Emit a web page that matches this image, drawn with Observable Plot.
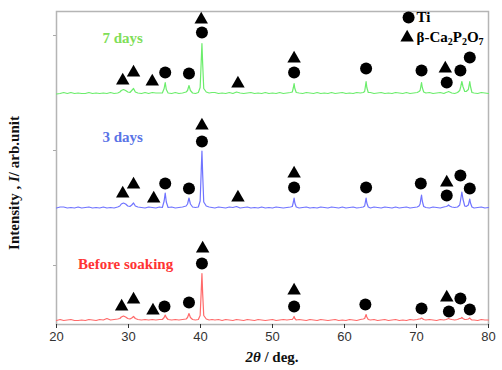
<!DOCTYPE html>
<html><head><meta charset="utf-8">
<script src="https://cdn.jsdelivr.net/npm/d3@7"></script>
<script src="https://cdn.jsdelivr.net/npm/@observablehq/plot@0.6"></script>
<style>body{margin:0;background:#fff} #chart{width:502px;height:370px}</style>
</head><body><div id="chart"></div>
<script>
// 2θ sample positions shared by the three patterns
const twoTheta = [
  20,20.5,21,21.5,22,22.5,23,23.5,24,24.5,25,25.5,26,26.5,27,27.5,28,28.5,
  28.8,29.0,29.3,29.6,29.9,30.2,30.45,30.7,30.95,31.3,31.8,32.3,32.8,33.3,33.8,34.3,
  34.7,34.95,35.1,35.25,35.5,36,36.5,37,37.5,38.0,
  38.2,38.4,38.6,38.9,39.3,39.7,
  39.95,40.1,40.2,40.3,40.45,40.8,41.2,41.6,
  42,42.5,43,43.5,44,44.5,45,45.5,46,46.5,47,47.5,48,48.5,49,49.5,50,50.5,51,51.5,52,52.5,
  52.75,52.9,53.0,53.1,53.3,
  53.7,54.2,54.7,55.2,55.7,56.2,56.7,57.2,57.7,58.2,58.7,59.2,59.7,60.2,60.7,61.2,61.7,62.2,62.6,
  62.8,62.9,63.0,63.1,63.3,
  63.6,64.1,64.6,65.1,65.6,66.1,66.6,67.1,67.6,68.1,68.6,69.1,69.6,70.1,70.35,
  70.5,70.6,70.7,70.8,71.0,
  71.3,71.8,72.3,72.8,73.3,73.8,74.1,
  74.3,74.45,74.6,74.9,75.3,75.7,76.0,
  76.15,76.3,76.45,76.7,76.9,
  77.2,77.3,77.4,77.5,77.7,
  78.0,78.5,79.0,79.5,80.0
];
const intensityBefore = [
  1,2,1,1.5,2,1,1,1.5,1,2,1.5,1,2,1.5,3,1.5,2,2.5,
  3,4.5,5.5,4.5,3,2.5,3.5,5,3,2,1.5,2,1.5,2,1.5,2,
  2,4,6.5,4,2,1.5,2,1.5,2,2.5,
  4,8,4,2,1.5,2,
  6,30,48,28,6,2.5,1.5,2,
  1.5,2,1,2,1.5,1,2,1.5,1,2,1.5,1,2,1.5,1,1.5,2,1,1.5,2,1.5,2,
  2,3.5,5,3,1.5,
  2,1.5,1,2,1.5,1,2,1.5,1,1.5,2,1,1.5,1,2,1.5,1,2,2.5,
  3,5,7,4.5,2,
  1.5,2,1,1.5,2,1,1.5,2,1,1.5,1,2,1.5,2,2.5,
  2.5,3,3.5,3,2,
  1.5,2,1.5,1,2,1.5,2,
  2.5,3,2.5,2,1.5,2,3,
  3,4,3,2,2,
  2.5,3,3.5,2.5,1.5,
  1.5,1,2,1.5,1.5
];
const intensity3d = [
  1,2,2,1,1.5,1,2,1,1.5,2,1,1.5,1,2,1,1.5,1,2,
  3,5,6,5,3,2.5,4,6,3,2,1.5,1,2,1.5,1,2,
  1.5,8,16,7,1.5,2,1,1.5,2,3,
  5,11,5,2,1.5,2,
  8,38,58,35,7,3,2,1.5,
  1,2,1.5,1,2,1.5,2.5,1,1.5,2,1,1.5,1,2,1,1.5,1,2,1.5,1,1.5,2,
  2.5,7,11,6,2,
  1,1.5,2,1,1.5,1,2,1.5,1,2,1.5,1,2,1,1.5,2,1,1.5,2,
  3,7,11,6,2,
  1,2,1.5,1,2,1.5,1,2,1,1.5,2,1,1.5,2,3,
  5,10,14,8,2.5,
  1.5,1,2,1.5,1,2,2.5,
  3,4,3,2,1.5,2,4,
  10,17,10,3,2.5,
  4,7,10,6,2,
  1,1.5,2,1,1.5
];
const intensity7d = [
  0.5,1,2,1,2,1,1.5,1,1,2,1,1.5,1,1.5,1,2,1,1.5,
  2.5,4,5,4,2.5,2,4,6,2.5,1.5,1,2,1,2,1.5,1.5,
  1.5,6,12,5,1.5,1,2,1,1.5,2.5,
  4,9,4,1.5,1,2,
  7,33,51,31,6,2.5,1.5,2,
  2,1,1.5,1,2,1,2.5,1.5,1,1.5,2,1,1.5,1,2,1,1.5,1,2,1,1.5,2,
  2.5,7,11,6,2,
  1.5,1,2,1.5,1,2,1,1.5,1,2,1,1.5,2,1,1.5,1,2,1.5,2,
  3,8,13,7,2,
  2,1,1.5,2,1,1.5,1,2,1.5,1,2,1,1.5,2,3,
  4,8,12,7,2.5,
  1.5,2,1,1.5,2,1,2,
  2.5,3,2.5,1.5,1,2,4,
  8,13,8,3,3,
  5,9,13,8,2,
  1.5,1,2,1.5,1
];
const seriesNames = ["Before soaking", "3 days", "7 days"];
const seriesOffsets = [3, 115.5, 230];
const seriesLineColors = ["#ff6a6a", "#7074ff", "#6ced6c"];
const seriesTextColors = ["#ff3333", "#5a74e6", "#80de58"];
const seriesLabelPos = [[29.6, 60], [29.2, 187], [29.2, 286]];

// phase markers: [kind, 2θ, level]
const markersBefore = [
  ["triangle",29.05,18],["triangle",30.7,25],["triangle",33.4,14],["circle",35.0,18],["circle",38.4,22],
  ["circle",40.2,61],["triangle",40.3,76],["triangle",53.0,34],["circle",53.0,18],["circle",62.9,20],
  ["circle",70.7,16],["triangle",74.2,27],["circle",74.5,13],["circle",76.1,26],["circle",77.4,15]
];
const markers3d = [
  ["triangle",29.2,131],["triangle",30.7,140],["triangle",33.5,126],["circle",35.1,141],["circle",38.4,136],
  ["circle",40.2,183],["triangle",40.2,199],["triangle",45.2,127],["triangle",53.0,151],["circle",53.0,137],
  ["circle",63.0,137],["circle",70.6,141],["triangle",74.2,142],["circle",74.2,129],["circle",76.1,149],["circle",77.4,136]
];
const markers7d = [
  ["triangle",29.2,244],["triangle",30.7,252],["triangle",33.3,243],["circle",35.1,252],["circle",38.4,251],
  ["circle",40.2,292],["triangle",40.1,305],["triangle",45.2,241],["triangle",53.0,266],["circle",53.0,252],
  ["circle",63.0,256],["circle",70.7,254],["triangle",74.0,256],["circle",74.2,242],["circle",76.1,254],["circle",77.4,267]
];
const legendItems = [["circle", "Ti", 307], ["triangle", "β-Ca2P2O7", 287]];
const xTicks = [20, 30, 40, 50, 60, 70, 80];
const yTicks = [59, 174, 289];

const intensities = [intensityBefore, intensity3d, intensity7d];
const allMarkers = [...markersBefore, ...markers3d, ...markers7d].map(([kind, x, y]) => ({kind, x, y}));

const lineMarks = seriesNames.map((name, i) => {
  const data = twoTheta.map((t, j) => ({t, v: intensities[i][j] + seriesOffsets[i]}));
  return Plot.line(data, {x: "t", y: "v", stroke: seriesLineColors[i], strokeWidth: 1.2});
});
const labelData = seriesNames.map((name, i) => ({name, x: seriesLabelPos[i][0], y: seriesLabelPos[i][1], color: seriesTextColors[i]}));
const legendData = legendItems.map(([kind, text, y]) => ({kind, text, y}));

const serif = "'Liberation Serif', 'Times New Roman', serif";
const chart = Plot.plot({
  width: 502, height: 370,
  marginLeft: 56, marginRight: 14, marginTop: 11, marginBottom: 46,
  x: {domain: [20, 80]},
  y: {domain: [0, 313]},
  style: {fontFamily: "'Liberation Sans', Arial, sans-serif", fontSize: "13px", color: "#333", background: "#fff"},
  marks: [
    Plot.frame({stroke: "#b5b5b5", strokeWidth: 1.5}),
    Plot.axisX({ticks: xTicks, tickSize: 4, tickPadding: 3, label: null, tickFormat: d => String(d)}),
    Plot.axisY({ticks: yTicks, tickSize: 3, tickFormat: () => "", label: null, stroke: "#aaa"}),
    ...lineMarks,
    Plot.dot(allMarkers.filter(d => d.kind === "circle"), {x: "x", y: "y", symbol: "circle", r: 6, fill: "#000"}),
    Plot.dot(allMarkers.filter(d => d.kind === "triangle"), {x: "x", y: "y", symbol: "triangle", r: 5, fill: "#000"}),
    Plot.text(labelData, {x: "x", y: "y", text: "name", fill: d => d.color, fontFamily: serif, fontWeight: "bold", fontSize: 15}),
    Plot.dot(legendData.filter(d => d.kind === "circle"), {x: 68.9, y: "y", symbol: "circle", r: 6, fill: "#000"}),
    Plot.dot(legendData.filter(d => d.kind === "triangle"), {x: 68.7, y: "y", symbol: "triangle", r: 5, fill: "#000"}),
    Plot.text(legendData, {x: 70.0, y: "y", text: "text", textAnchor: "start", fill: "#000", fontFamily: serif, fontWeight: "bold", fontSize: 15})
  ]
});
document.getElementById("chart").appendChild(chart);

const svg = d3.select(chart);
// subscripts in the legend formula
svg.selectAll("text").filter(function(){ return this.textContent === "β-Ca2P2O7"; }).each(function(){
  const t = d3.select(this);
  t.text("");
  const parts = [["β-Ca",0],["2",1],["P",0],["2",1],["O",0],["7",1]];
  let sub = 0;
  parts.forEach(([s, isSub]) => {
    const ts = t.append("tspan").text(s);
    if (isSub && !sub) ts.attr("dy", 3);
    if (!isSub && sub) ts.attr("dy", -3);
    if (isSub) ts.attr("font-size", 10);
    sub = isSub;
  });
});
// axis titles
const yt = svg.append("text").attr("transform", "translate(19,183) rotate(-90)")
  .attr("text-anchor", "middle").attr("font-family", serif).attr("font-weight", "bold").attr("font-size", 15).attr("fill", "#111");
yt.append("tspan").text("Intensity , ");
yt.append("tspan").attr("font-style", "italic").text("I");
yt.append("tspan").text("/ arb.unit");
const xt = svg.append("text").attr("x", 272).attr("y", 362)
  .attr("text-anchor", "middle").attr("font-family", serif).attr("font-weight", "bold").attr("font-size", 15).attr("fill", "#111");
xt.append("tspan").attr("font-style", "italic").text("2θ");
xt.append("tspan").text(" / deg.");
</script>
</body></html>
